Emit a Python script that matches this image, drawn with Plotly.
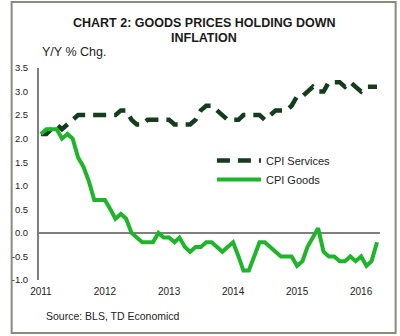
import pandas as pd
import plotly.graph_objects as go

months = pd.date_range("2011-01-01", periods=64, freq="MS")

cpi_services = [
    2.1, 2.1, 2.2, 2.3, 2.2, 2.3, 2.4, 2.5, 2.5, 2.5, 2.5, 2.5,
    2.5, 2.5, 2.5, 2.6, 2.6, 2.4, 2.3, 2.3, 2.4, 2.4, 2.4, 2.4,
    2.4, 2.3, 2.3, 2.3, 2.3, 2.4, 2.6, 2.7, 2.7, 2.6, 2.5, 2.4,
    2.4, 2.4, 2.5, 2.5, 2.5, 2.5, 2.4, 2.5, 2.6, 2.6, 2.6, 2.7,
    2.9, 2.9, 3.0, 3.1, 3.0, 3.0, 3.2, 3.2, 3.2, 3.1, 3.2, 3.1,
    3.0, 3.1, 3.1, 3.1,
]

cpi_goods = [
    2.1, 2.2, 2.2, 2.2, 2.0, 2.1, 2.0, 1.6, 1.4, 1.1, 0.7, 0.7,
    0.7, 0.5, 0.3, 0.4, 0.3, 0.0, -0.1, -0.2, -0.2, -0.2, 0.0, -0.1,
    -0.1, -0.2, -0.1, -0.3, -0.4, -0.3, -0.3, -0.2, -0.2, -0.3, -0.4, -0.3,
    -0.2, -0.5, -0.8, -0.8, -0.5, -0.2, -0.2, -0.3, -0.4, -0.5, -0.5, -0.5,
    -0.7, -0.6, -0.3, -0.1, 0.1, -0.4, -0.5, -0.5, -0.6, -0.6, -0.5, -0.6,
    -0.5, -0.7, -0.6, -0.2,
]

y_ticks = [-1.0, -0.5, 0.0, 0.5, 1.0, 1.5, 2.0, 2.5, 3.0, 3.5]
x_ticks = pd.date_range("2011-01-01", periods=6, freq="YS")
x_tick_labels = [str(d.year) for d in x_ticks]

title_line1 = "CHART 2: GOODS PRICES HOLDING DOWN"
title_line2 = "INFLATION"
y_label = "Y/Y % Chg."
source_text = "Source: BLS, TD Economicd"

FONT = "Liberation Sans, Arial, sans-serif"
GRAY = "#7f7f7f"

fig = go.Figure()
fig.add_trace(go.Scatter(
    x=months, y=cpi_services, mode="lines", name="CPI Services",
    line=dict(color="#153d1d", width=4.5, dash="13px,8px"),
))
fig.add_trace(go.Scatter(
    x=months, y=cpi_goods, mode="lines", name="CPI Goods",
    line=dict(color="#1fb52a", width=4),
))

L, R, T, B = 31, 20, 68, 56
W, H = 400, 336
pw = W - L - R
ph = H - T - B

def px_x(px):
    return (px - L) / pw

def px_y(py):
    return (H - B - py) / ph

fig.update_layout(
    width=W, height=H,
    margin=dict(l=L, r=R, t=T, b=B, pad=0),
    paper_bgcolor="white", plot_bgcolor="white",
    font=dict(family=FONT, color="#222222"),
    showlegend=True,
    legend=dict(
        x=px_x(208), y=px_y(146), xanchor="left", yanchor="top",
        bgcolor="rgba(0,0,0,0)", borderwidth=0,
        font=dict(size=11, family=FONT, color="#222222"),
        itemwidth=44, tracegroupgap=0,
    ),
    xaxis=dict(
        type="date",
        range=["2010-12-21", "2016-04-18"],
        tickvals=list(x_ticks), ticktext=x_tick_labels,
        showgrid=False, zeroline=False, showline=False,
        ticks="", ticklabelstandoff=4,
        tickfont=dict(size=10, family=FONT, color="#222222"),
    ),
    yaxis=dict(
        range=[-1.0, 3.5],
        tickvals=y_ticks, ticktext=[f"{v:.1f}" for v in y_ticks],
        showgrid=False, zeroline=True, zerolinecolor=GRAY, zerolinewidth=2,
        showline=True, linecolor=GRAY, linewidth=2,
        ticks="", ticklabelstandoff=7,
        tickfont=dict(size=9.5, family=FONT, color="#222222"),
    ),
)

fig.add_annotation(text=f"<b>{title_line1}</b>", xref="paper", yref="paper",
                   x=px_x(200), y=px_y(23), xanchor="center", yanchor="middle",
                   showarrow=False, font=dict(size=12.5, family=FONT, color="#1a1a1a"))
fig.add_annotation(text=f"<b>{title_line2}</b>", xref="paper", yref="paper",
                   x=px_x(200), y=px_y(38), xanchor="center", yanchor="middle",
                   showarrow=False, font=dict(size=12.5, family=FONT, color="#1a1a1a"))
fig.add_annotation(text=y_label, xref="paper", yref="paper",
                   x=px_x(32), y=px_y(51.5), xanchor="left", yanchor="middle",
                   showarrow=False, font=dict(size=12.5, family=FONT, color="#222222"))
fig.add_annotation(text=source_text, xref="paper", yref="paper",
                   x=px_x(36), y=px_y(316), xanchor="left", yanchor="middle",
                   showarrow=False, font=dict(size=10.5, family=FONT, color="#222222"))

fig.add_shape(type="rect", xref="paper", yref="paper",
              x0=px_x(3), x1=px_x(396), y0=px_y(333), y1=px_y(2),
              line=dict(color="#8a8a7e", width=2), fillcolor="rgba(0,0,0,0)",
              layer="below")

fig.write_html("out.html")
